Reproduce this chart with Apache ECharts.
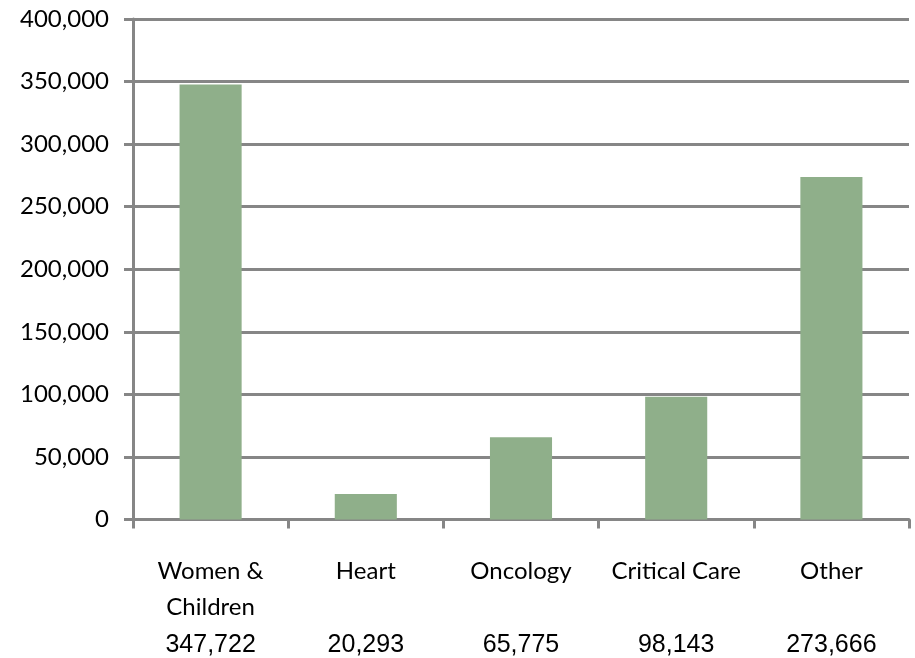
<!DOCTYPE html>
<html><head><meta charset="utf-8">
<script src="https://cdn.jsdelivr.net/npm/echarts@6/dist/echarts.min.js"></script>
<style>html,body{margin:0;padding:0;background:#fff}#c{width:915px;height:658px}</style>
</head><body><div id="c"></div>
<script>
const categories = ["Women &\nChildren", "Heart", "Oncology", "Critical Care", "Other"];
const values = [347722, 20293, 65775, 98143, 273666];
const yTicks = [0, 50000, 100000, 150000, 200000, 250000, 300000, 350000, 400000];

const fmt = v => v.toString().replace(/\B(?=(\d{3})+(?!\d))/g, ",");
const chart = echarts.init(document.getElementById('c'));
chart.setOption({
  animation: false,
  grid: { left: 133, right: 6, top: 19, bottom: 138, containLabel: false },
  xAxis: {
    type: 'category',
    data: categories,
    axisLine: { lineStyle: { color: '#868686', width: 3 } },
    axisTick: { show: true, length: 9, lineStyle: { color: '#868686', width: 3 } },
    axisLabel: {
      interval: 0,
      margin: 34,
      formatter: (val, idx) => {
        const lines = val.split("\n");
        while (lines.length < 2) lines.push(" ");
        return lines.map(l => "{n|" + l + "}").join("\n") + "\n{v|" + fmt(values[idx]) + "}";
      },
      rich: {
        n: { fontFamily: 'Lato', fontSize: 24, color: '#000', lineHeight: 36 },
        v: { fontFamily: 'Liberation Sans', fontSize: 25, color: '#000', lineHeight: 40 }
      }
    }
  },
  yAxis: {
    type: 'value',
    min: yTicks[0],
    max: yTicks[yTicks.length - 1],
    interval: 50000,
    axisLine: { show: true, lineStyle: { color: '#868686', width: 3 } },
    axisTick: { show: true, length: 9, lineStyle: { color: '#868686', width: 3 } },
    splitLine: { lineStyle: { color: '#868686', width: 3 } },
    axisLabel: {
      margin: 24,
      fontFamily: 'Lato', fontSize: 24, color: '#000',
      formatter: v => fmt(v)
    }
  },
  series: [{
    type: 'bar',
    data: values,
    barWidth: '40%',
    itemStyle: { color: '#8FAF8A' }
  }]
});
</script></body></html>
